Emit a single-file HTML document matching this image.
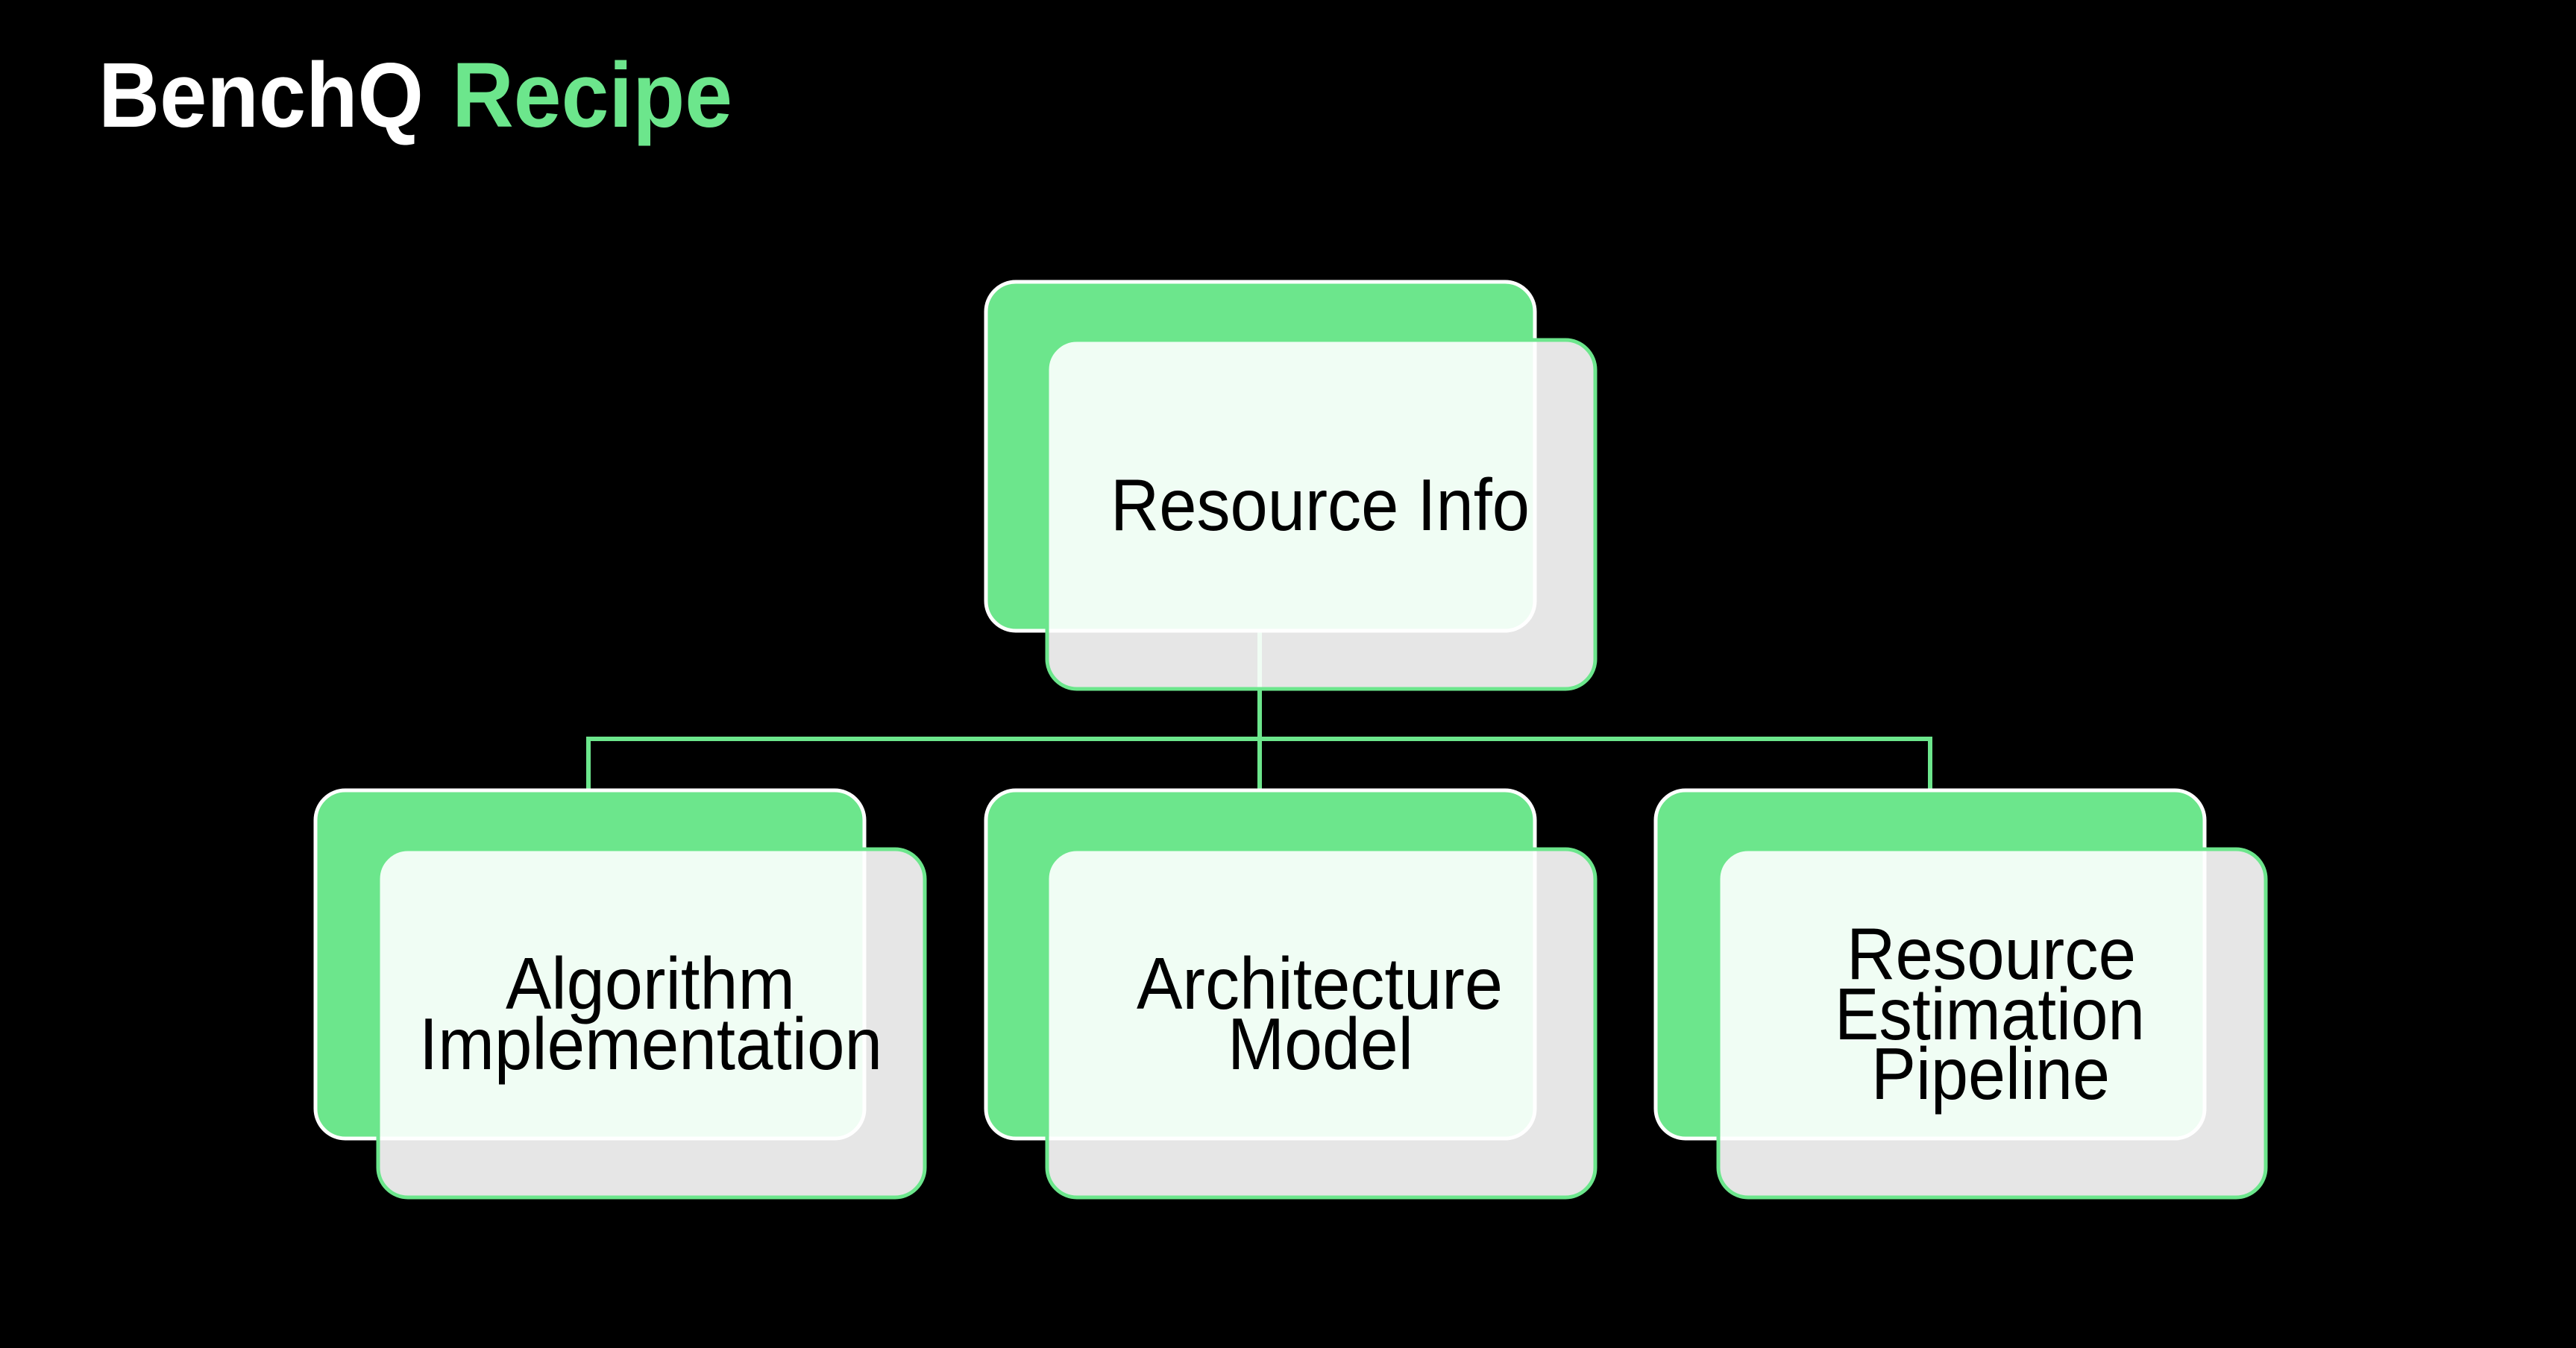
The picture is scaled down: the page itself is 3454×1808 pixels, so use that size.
<!DOCTYPE html>
<html><head><meta charset="utf-8"><style>
html,body{margin:0;padding:0;background:#000;}
svg{display:block;}
text{font-family:"Liberation Sans",Arial,sans-serif;}
</style></head><body>
<svg width="3454" height="1808" viewBox="0 0 3454 1808" xmlns="http://www.w3.org/2000/svg">
<rect width="3454" height="1808" fill="#000"/>
<text x="132" y="170" font-size="123" font-weight="bold" fill="#fff" textLength="436" lengthAdjust="spacingAndGlyphs">BenchQ</text>
<text x="606" y="170" font-size="123" font-weight="bold" fill="#6ce68c" textLength="376" lengthAdjust="spacingAndGlyphs">Recipe</text>

<g stroke="#6ce68c" stroke-width="6" fill="none">
<line x1="1689" y1="846" x2="1689" y2="1060"/>
<line x1="789" y1="991" x2="2588" y2="991"/>
<line x1="789" y1="988" x2="789" y2="1060"/>
<line x1="2588" y1="988" x2="2588" y2="1060"/>
</g>

<g stroke="#fff" stroke-width="5" fill="#6ce68c">
<rect x="1322" y="378" width="736" height="468" rx="40"/>
<rect x="423" y="1060" width="736" height="467" rx="40"/>
<rect x="1322" y="1060" width="736" height="467" rx="40"/>
<rect x="2220" y="1060" width="736" height="467" rx="40"/>
</g>
<g stroke="#6ce68c" stroke-width="5" fill="rgba(255,255,255,0.9)">
<rect x="1404" y="456" width="735" height="468" rx="40"/>
<rect x="507" y="1139" width="733" height="467" rx="40"/>
<rect x="1404" y="1139" width="735" height="467" rx="40"/>
<rect x="2304" y="1139" width="734" height="467" rx="40"/>
</g>

<g font-size="98" fill="#000">
<text x="1489" y="711" textLength="562" lengthAdjust="spacingAndGlyphs">Resource Info</text>
<text x="678" y="1353" textLength="388" lengthAdjust="spacingAndGlyphs">Algorithm</text>
<text x="562" y="1434" textLength="621" lengthAdjust="spacingAndGlyphs">Implementation</text>
<text x="1524" y="1353" textLength="491" lengthAdjust="spacingAndGlyphs">Architecture</text>
<text x="1646" y="1434" textLength="249" lengthAdjust="spacingAndGlyphs">Model</text>
<text x="2476" y="1313" textLength="388" lengthAdjust="spacingAndGlyphs">Resource</text>
<text x="2460" y="1394" textLength="416" lengthAdjust="spacingAndGlyphs">Estimation</text>
<text x="2509" y="1474" textLength="320" lengthAdjust="spacingAndGlyphs">Pipeline</text>
</g>
</svg>
</body></html>
